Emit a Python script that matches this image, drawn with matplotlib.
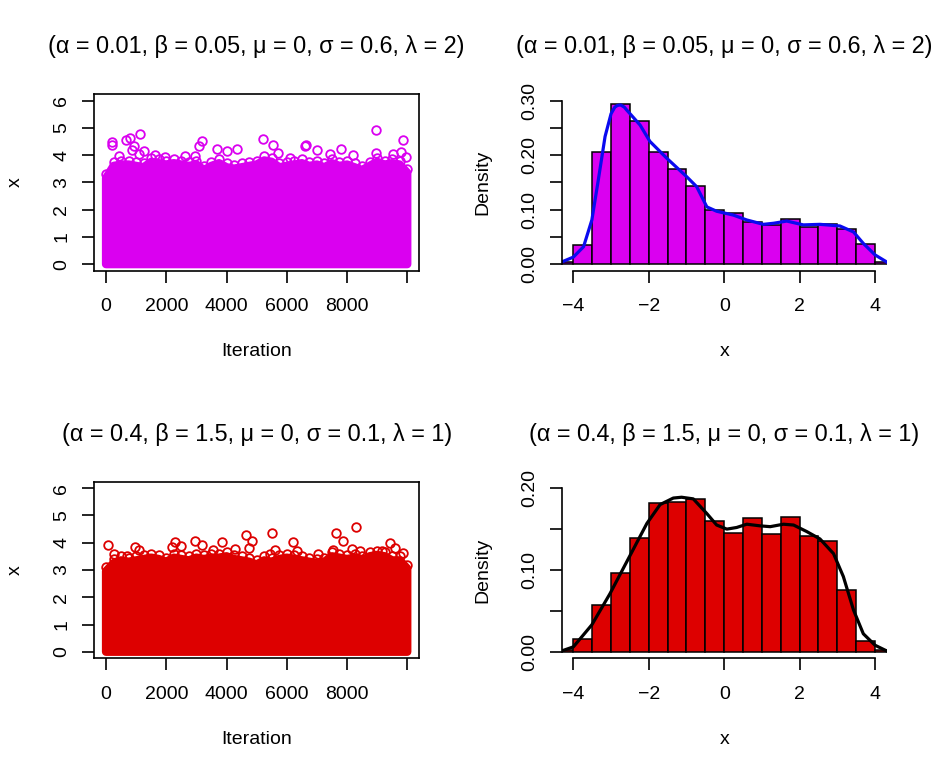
import numpy as np
import matplotlib
matplotlib.use("Agg")
import matplotlib.pyplot as plt

plt.rcParams['font.family'] = ['Liberation Sans', 'DejaVu Sans']

MAGENTA = "#DA00F0"
RED = "#DD0000"
BLUE = "#0A0AF0"

# ---- trace 1 (alpha=0.01, ...) : band top of the dense cloud + visible outliers
env_x = [0, 250, 500, 750, 1000, 1250, 1500, 1750, 2000, 2250, 2500, 2750,
         3000, 3250, 3500, 3750, 4000, 4250, 4500, 4750, 5000, 5250, 5500,
         5750, 6000, 6250, 6500, 6750, 7000, 7250, 7500, 7750, 8000, 8250,
         8500, 8750, 9000, 9250, 9500, 9750, 10000]
env1_y = [3.3, 3.75, 3.8, 3.8, 3.75, 3.7, 3.9, 3.85, 3.8, 3.85, 3.8, 3.75,
          3.8, 3.6, 3.75, 3.85, 3.7, 3.65, 3.7, 3.75, 3.8, 3.95, 3.9,
          3.7, 3.75, 3.8, 3.85, 3.75, 3.8, 3.7, 3.85, 3.75, 3.8, 3.7,
          3.6, 3.75, 3.9, 3.8, 3.85, 3.8, 3.5]
out1_x = [199, 199, 674, 806, 939, 861, 1137, 1248, 1104, 420, 1612, 2628,
          2960, 3070, 3180, 3680, 4010, 4340, 5223, 5533, 6107, 6604, 6640,
          7013, 7432, 7797, 8956, 8978, 9530, 9861, 9806, 9972, 1966, 5720, 8205]
out1_y = [4.49, 4.36, 4.57, 4.63, 4.33, 4.18, 4.79, 4.14, 4.03, 3.96, 4.0, 3.96,
          3.96, 4.33, 4.52, 4.24, 4.16, 4.24, 4.58, 4.36, 3.88, 4.33, 4.36,
          4.18, 4.03, 4.21, 4.91, 4.08, 4.03, 4.55, 4.12, 3.94, 3.94, 4.08, 4.0]

# ---- trace 2 (alpha=0.4, ...)
env2_y = [3.1, 3.4, 3.5, 3.45, 3.5, 3.55, 3.6, 3.55, 3.45, 3.6, 3.55, 3.5,
          3.6, 3.55, 3.6, 3.6, 3.65, 3.55, 3.5, 3.45, 3.35, 3.5, 3.45,
          3.55, 3.6, 3.55, 3.5, 3.45, 3.4, 3.45, 3.65, 3.6, 3.55, 3.6,
          3.5, 3.65, 3.7, 3.65, 3.5, 3.5, 3.2]
out2_x = [66, 276, 696, 972, 1104, 2187, 2297, 2485, 2960, 3180, 3567, 3865,
          4285, 4650, 4837, 4749, 5500, 5445, 5610, 6195, 6328, 7046, 7631,
          7520, 7852, 8172, 8293, 8426, 9177, 9420, 9586, 9862]
out2_y = [3.93, 3.59, 3.53, 3.83, 3.75, 3.83, 4.04, 3.87, 4.08, 3.93, 3.75, 4.01,
          3.77, 4.29, 4.05, 3.81, 4.34, 3.59, 3.73, 4.04, 3.69, 3.59, 4.36,
          3.73, 4.05, 3.77, 4.59, 3.71, 3.71, 3.98, 3.81, 3.61]

# ---- histograms (bin width 0.5)
bin_left = [-4.5, -4.0, -3.5, -3.0, -2.5, -2.0, -1.5, -1.0, -0.5,
            0.0, 0.5, 1.0, 1.5, 2.0, 2.5, 3.0, 3.5, 4.0]
dens1 = [0.004, 0.035, 0.206, 0.293, 0.263, 0.206, 0.175, 0.143, 0.100,
         0.094, 0.078, 0.072, 0.082, 0.069, 0.073, 0.064, 0.037, 0.004]
dens2 = [0.002, 0.015, 0.057, 0.096, 0.139, 0.182, 0.183, 0.187, 0.160,
         0.145, 0.164, 0.144, 0.165, 0.142, 0.136, 0.076, 0.013, 0.002]

# ---- kernel density curves
kde1_x = [-4.31, -4.0, -3.73, -3.51, -3.34, -3.16, -3.0, -2.9, -2.83, -2.75,
          -2.65, -2.59, -2.23, -1.97, -1.52, -0.99, -0.73, -0.46, -0.20, 0.24,
          0.60, 1.04, 1.31, 1.66, 2.10, 2.54, 3.07, 3.43, 3.69, 4.0, 4.31]
kde1_y = [0.004, 0.013, 0.032, 0.081, 0.154, 0.234, 0.276, 0.288, 0.291, 0.292,
          0.288, 0.283, 0.255, 0.225, 0.194, 0.160, 0.142, 0.105, 0.097, 0.090,
          0.081, 0.073, 0.075, 0.079, 0.072, 0.073, 0.070, 0.059, 0.038, 0.017, 0.004]
kde2_x = [-4.31, -4.0, -3.51, -3.03, -2.54, -2.05, -1.70, -1.35, -1.13, -0.82,
          -0.46, -0.20, 0.07, 0.33, 0.60, 0.95, 1.22, 1.57, 1.84, 2.19,
          2.54, 2.90, 3.16, 3.43, 3.69, 4.0, 4.31]
kde2_y = [0.001, 0.006, 0.033, 0.071, 0.114, 0.157, 0.180, 0.188, 0.189, 0.187,
          0.169, 0.155, 0.150, 0.152, 0.156, 0.154, 0.153, 0.156, 0.155, 0.147,
          0.138, 0.120, 0.092, 0.051, 0.022, 0.008, 0.001]

titles = ["(α = 0.01, β = 0.05, μ = 0, σ = 0.6, λ = 2)",
          "(α = 0.4, β = 1.5, μ = 0, σ = 0.1, λ = 1)"]

FS = 14
LW = 1.2
TL = 8.6
R = 0.146  # circle radius in data units of the trace panels
MS = 6.2


def style_ticks(ax):
    ax.tick_params(axis='both', length=TL, width=LW, labelsize=FS, direction='out')
    ax.tick_params(axis='x', pad=11)
    ax.tick_params(axis='y', pad=8.5)
    for lab in ax.get_yticklabels():
        lab.set_rotation(90)
        lab.set_va('center')


def labels(ax, xl, yl, title):
    ax.set_xlabel(xl, fontsize=FS)
    ax.set_ylabel(yl, fontsize=FS)
    h = ax.get_position().height * 775
    w = ax.get_position().width * 935
    ax.xaxis.set_label_coords(0.5, -81 / h)
    ax.xaxis.label.set_va('center')
    ax.yaxis.set_label_coords(-79 / w, 0.5)
    ax.yaxis.label.set_va('center')
    ax.text(0.5, 1 + 47 / h, title, transform=ax.transAxes, ha='center',
            va='center', fontsize=16.8)


def trace_panel(ax, ey, ox, oy, color, title):
    xs = [env_x[0]] + env_x + [env_x[-1]]
    ys = [0] + [v - R for v in ey] + [0]
    ax.fill(xs, ys, facecolor=color, edgecolor=color, lw=6.0, joinstyle='round')
    ax.plot(env_x, ey, 'o', mfc='none', mec=color, ms=MS, mew=1.3)
    ax.plot(ox, oy, 'o', mfc='none', mec=color, ms=MS, mew=1.3)
    ax.set_xlim(-400, 10400)
    ax.set_ylim(-0.24, 6.24)
    ax.set_xticks([0, 2000, 4000, 6000, 8000, 10000])
    ax.set_xticklabels(['0', '2000', '4000', '6000', '8000', ''])
    ax.set_yticks([0, 1, 2, 3, 4, 5, 6])
    for s in ax.spines.values():
        s.set_linewidth(LW)
    style_ticks(ax)
    labels(ax, "Iteration", "x", title)


def hist_panel(ax, dens, kx, ky, color, lcolor, ytop, yt, ytl, title):
    ax.bar(bin_left, dens, width=0.5, align='edge', color=color,
           edgecolor='black', lw=1.1)
    ax.plot(kx, ky, color=lcolor, lw=2.3)
    ax.set_xlim(-4.31, 4.31)
    ax.set_ylim(-0.04 * ytop, 1.04 * ytop)
    ax.spines['top'].set_visible(False)
    ax.spines['right'].set_visible(False)
    ax.spines['left'].set_bounds(0, ytop)
    ax.spines['bottom'].set_bounds(-4, 4)
    ax.spines['left'].set_linewidth(LW)
    ax.spines['bottom'].set_linewidth(LW)
    ax.set_xticks([-4, -2, 0, 2, 4])
    ax.set_xticklabels(['\u22124', '\u22122', '0', '2', '4'])
    ax.set_yticks(yt)
    ax.set_yticklabels(ytl)
    style_ticks(ax)
    labels(ax, "x", "Density", title)


fig = plt.figure(figsize=(9.35, 7.75), dpi=100)
ax_tl = fig.add_axes([94 / 935, 1 - 270.7 / 775, 325.3 / 935, 176.7 / 775])
ax_tr = fig.add_axes([561.7 / 935, 1 - 270.7 / 775, 325 / 935, 176.7 / 775])
ax_bl = fig.add_axes([94 / 935, 1 - 658.3 / 775, 325.3 / 935, 176.6 / 775])
ax_br = fig.add_axes([561.7 / 935, 1 - 658.3 / 775, 325 / 935, 176.6 / 775])

trace_panel(ax_tl, env1_y, out1_x, out1_y, MAGENTA, titles[0])
trace_panel(ax_bl, env2_y, out2_x, out2_y, RED, titles[1])
hist_panel(ax_tr, dens1, kde1_x, kde1_y, MAGENTA, BLUE, 0.30,
           [0, 0.05, 0.10, 0.15, 0.20, 0.25, 0.30],
           ['0.00', '', '0.10', '', '0.20', '', '0.30'], titles[0])
hist_panel(ax_br, dens2, kde2_x, kde2_y, RED, 'black', 0.20,
           [0, 0.05, 0.10, 0.15, 0.20],
           ['0.00', '', '0.10', '', '0.20'], titles[1])

fig.savefig("out.png", dpi=100)
